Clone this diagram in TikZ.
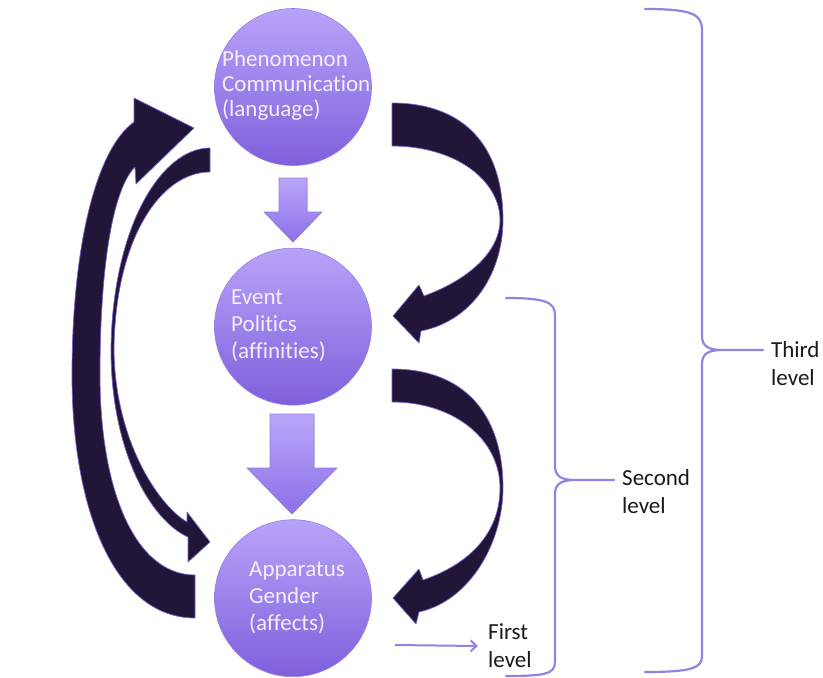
\documentclass[tikz,border=0pt]{standalone}
\usepackage{fontspec}
\setmainfont{Carlito}[Ligatures={NoCommon}]
\usetikzlibrary{arrows.meta,positioning,calc}
\definecolor{stagetop}{RGB}{184,163,248}
\definecolor{stagebot}{RGB}{126,96,220}
\definecolor{stageedge}{RGB}{150,125,230}
\definecolor{stagetxt}{RGB}{242,238,255}
\definecolor{curvefill}{RGB}{33,22,56}
\definecolor{curveedge}{RGB}{120,96,210}
\definecolor{droptop}{RGB}{186,166,250}
\definecolor{dropbot}{RGB}{140,112,232}
\definecolor{bracecol}{RGB}{150,128,226}
\tikzset{
    stagecirc/.style = {circle, minimum size=157pt, inner sep=0pt,
        top color=stagetop, bottom color=stagebot, draw=stageedge, line width=0.6pt},
    stagetext/.style = {align=left, text=stagetxt, inner sep=0pt,
        font=\fontsize{23}{25}\selectfont},
    loopband/.style = {fill=curvefill, draw=curveedge, line width=0.7pt, line join=round},
    droparrow/.style = {top color=droptop, bottom color=dropbot, draw=stageedge, line width=0.6pt},
    levelbrace/.style = {draw=bracecol, line width=2.2pt, line cap=round, line join=round},
    levtext/.style = {align=left, inner sep=0pt, text=black!90,
        font=\fontsize{23}{28}\selectfont}
}
\begin{document}
\begin{tikzpicture}[x=1pt,y=-1pt]
\useasboundingbox (0,0) rectangle (823,678);
% the three circles
\node[stagecirc] (phen) at (293,87) {};
\node[stagecirc, below=82pt of phen] (event) {};
\node[stagecirc, below=114pt of event] (appar) {};
\node[stagetext, anchor=west] (phentext) at ($(phen)+(-71,-2)$) {Phenomenon\\Communication\\(language)};
\node[stagetext, anchor=west, font=\fontsize{23}{27}\selectfont] (eventtext) at ($(event)+(-62,-1)$) {Event\\Politics\\(affinities)};
\node[stagetext, anchor=west, font=\fontsize{23}{27}\selectfont] (appartext) at ($(appar)+(-44,0)$) {Apparatus\\Gender\\(affects)};
% straight arrows down
\filldraw[droparrow] (279,178) -- (307,178) -- (307,212) -- (322,212) -- (293,242) -- (264,212) -- (279,212) -- cycle;
\filldraw[droparrow] (270,414) -- (314,414) -- (314,468) -- (337,468) -- (292,514) -- (247,468) -- (270,468) -- cycle;
% curved arrows, right side
\filldraw[loopband] (392,103) .. controls (465,103) and (503,147) .. (503,220)
    .. controls (503,270) and (475,320) .. (421,331)
    -- (419,343) -- (393,316) -- (419,285) -- (424,296)
    .. controls (468,280) and (500,252) .. (500,220)
    .. controls (500,180) and (455,146) .. (392,146) -- cycle;
\filldraw[loopband] (392,369) .. controls (465,369) and (503,415) .. (503,488)
    .. controls (503,540) and (472,600) .. (419,612)
    -- (416,624) -- (393,598) -- (419,569) -- (423,580)
    .. controls (467,565) and (500,535) .. (500,488)
    .. controls (500,440) and (455,402) .. (392,402) -- cycle;
% curved arrows, left side
\filldraw[loopband] (195,618) .. controls (115,618) and (72,510) .. (72,375)
    .. controls (72,250) and (95,150) .. (134,122)
    -- (134,98) -- (194,128) -- (136,184) -- (135,167)
    .. controls (112,190) and (100,270) .. (100,375)
    .. controls (100,490) and (135,575) .. (195,575) -- cycle;
\filldraw[loopband] (210,148) .. controls (160,148) and (112,230) .. (111,350)
    .. controls (111,450) and (150,520) .. (188,537)
    -- (188,562) -- (210,542) -- (187,512) -- (187,522)
    .. controls (158,505) and (115,440) .. (114,350)
    .. controls (115,240) and (160,172) .. (210,172) -- cycle;
% levels
\node[levtext, anchor=west] (third) at (771,364) {Third\\level};
\node[levtext, anchor=west] (second) at (622,492) {Second\\level};
\node[levtext, anchor=west] (first) at (488,646) {First\\level};
\draw[levelbrace] (645,9) .. controls (692,9) and (702,14) .. (702,30) -- (702,336)
    .. controls (702,346) and (708,350) .. (722,350) -- (763,350) -- (722,350)
    .. controls (708,350) and (702,354) .. (702,364) -- (702,656)
    .. controls (702,668) and (692,672) .. (645,672);
\draw[levelbrace] (506,298) .. controls (545,298) and (555,302) .. (555,315) -- (555,466)
    .. controls (555,476) and (561,480) .. (575,480) -- (614,480) -- (575,480)
    .. controls (561,480) and (555,484) .. (555,494) -- (555,662)
    .. controls (555,674) and (545,676) .. (506,676);
\coordinate (fstart) at (395,645);
\draw[draw=bracecol, line width=2pt, -{Straight Barb[length=6pt,width=11pt]}] (fstart) -- ([xshift=-10pt]first.west);
\end{tikzpicture}
\end{document}
